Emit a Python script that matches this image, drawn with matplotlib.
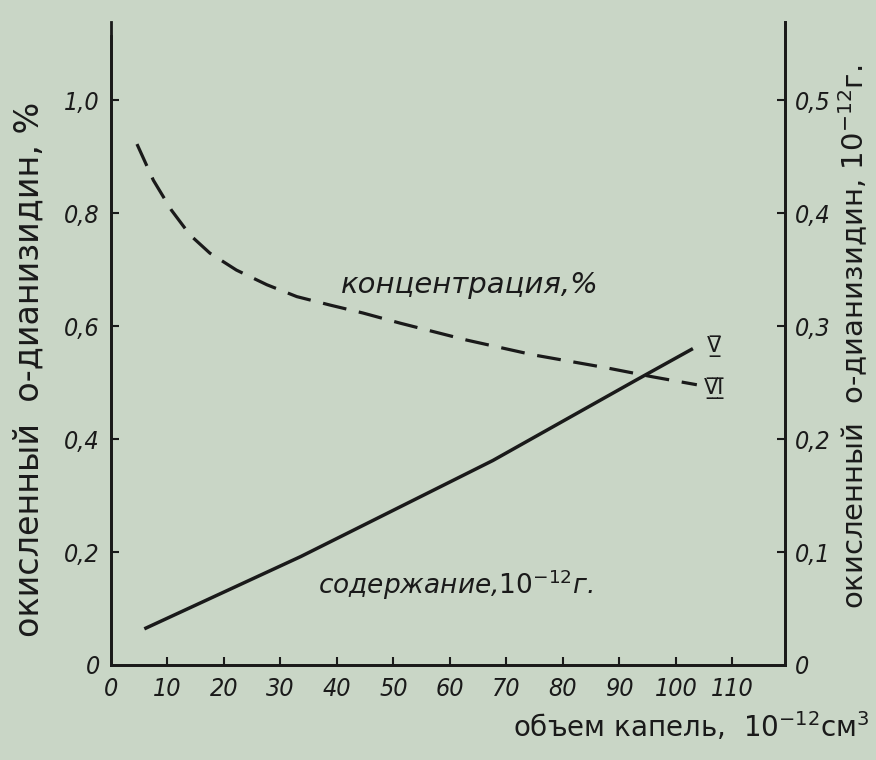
import matplotlib.pyplot as plt
import matplotlib
import numpy as np

# объем капель, 10^-12 см3
conc_x = [4.6, 7.5, 10.7, 14.0, 17.5, 22.2, 27.6, 32.9, 38.8, 44.6, 51.2, 63.0, 74.7, 87.7, 95.9, 103.7]
# концентрация, %  (левая ось)
conc_y = [0.922, 0.858, 0.805, 0.761, 0.729, 0.699, 0.673, 0.652, 0.637, 0.623, 0.605, 0.575, 0.549, 0.526, 0.510, 0.496]

# содержание, 10^-12 г (правая ось)
cont_x = [5.9, 33.6, 67.6, 92.9, 103.0]
cont_y = [0.032, 0.096, 0.181, 0.252, 0.280]

xticks = [0, 10, 20, 30, 40, 50, 60, 70, 80, 90, 100, 110]
left_ticks = [0, 0.2, 0.4, 0.6, 0.8, 1.0]
left_labels = ['0', '0,2', '0,4', '0,6', '0,8', '1,0']
right_ticks = [0, 0.1, 0.2, 0.3, 0.4, 0.5]
right_labels = ['0', '0,1', '0,2', '0,3', '0,4', '0,5']

bg = '#c9d6c6'
ink = '#1a1a1a'

fig = plt.figure(figsize=(8.76, 7.6), dpi=100, facecolor=bg)
ax = fig.add_axes([0.1267, 0.125, 0.7694, 0.846])
ax.set_facecolor(bg)
ax2 = ax.twinx()

ax.set_xlim(0, 119.3)
ax.set_ylim(0, 1.138)
ax2.set_ylim(0, 0.569)

for a in (ax, ax2):
    a.spines['top'].set_visible(False)
    for s in a.spines.values():
        s.set_color(ink)
        s.set_linewidth(2)
ax.spines['left'].set_bounds(0, 1.113)

ax.plot(conc_x, conc_y, color=ink, lw=2.3, dashes=(7.5, 4))
ax2.plot(cont_x, cont_y, color=ink, lw=2.5, solid_capstyle='butt')

# цифры на осях - узкий наклонный шрифт
tick_font = dict(fontsize=18, style='italic', fontstretch='condensed')
ax.set_xticks(xticks, [str(t) for t in xticks], **tick_font)
ax.set_yticks(left_ticks, left_labels, **tick_font)
ax2.set_yticks(right_ticks, right_labels, **tick_font)
ax.tick_params(axis='both', direction='in', length=6, width=1.5, color=ink, labelcolor=ink)
ax.tick_params(axis='x', pad=9)
ax.tick_params(axis='y', pad=8)
ax2.tick_params(axis='y', direction='in', length=6, width=1.5, color=ink, labelcolor=ink, pad=7)
ax.xaxis.get_major_ticks()[0].tick1line.set_visible(False)
ax.yaxis.get_major_ticks()[0].tick1line.set_visible(False)
ax2.yaxis.get_major_ticks()[0].tick2line.set_visible(False)

ax.set_ylabel('окисленный  о-дианизидин, %', fontsize=24, color=ink)
ax2.set_ylabel('окисленный  о-дианизидин, $10^{-12}$г.', fontsize=21, color=ink)
ax.yaxis.set_label_coords(-0.097, 0.46)
ax2.yaxis.set_label_coords(1.077, 0.51)

fig.text(0.993, 0.022, 'объем капель,  $10^{-12}$см$^3$', fontsize=20, color=ink, ha='right', va='bottom')

ax.text(63.5, 0.673, 'концентрация,%', fontsize=21, style='italic', color=ink, ha='center', va='center')
ax.text(60.9, 0.142, 'содержание,$10^{-12}$г.', fontsize=19, style='italic', color=ink, ha='center', va='center')

ax.text(106.8, 0.565, 'V\u0332\u0305', fontsize=15, color=ink, ha='center', va='center')
ax.text(106.8, 0.49, 'V\u0332\u0305I\u0332\u0305', fontsize=15, color=ink, ha='center', va='center')

fig.savefig('out.png', dpi=100, facecolor=bg)
